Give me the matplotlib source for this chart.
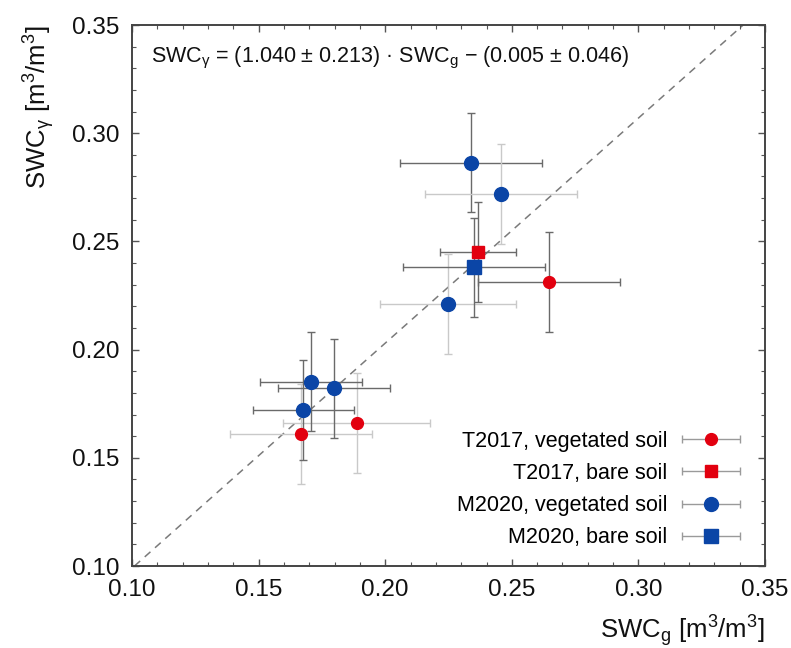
import numpy as np
import matplotlib
matplotlib.use("Agg")
import matplotlib.pyplot as plt
from matplotlib.legend_handler import HandlerErrorbar

plt.rcParams['font.family'] = ['Liberation Sans', 'DejaVu Sans']
plt.rcParams['mathtext.fontset'] = 'custom'
plt.rcParams['mathtext.rm'] = 'Liberation Sans'
plt.rcParams['mathtext.it'] = 'Liberation Sans:italic'
plt.rcParams['mathtext.bf'] = 'Liberation Sans:bold'

# data (SWC_g, SWC_gamma, errors)
t17_veg_x = [0.1667, 0.1887, 0.2648]
t17_veg_y = [0.1610, 0.1662, 0.2312]
t17_veg_xerr = [0.028, 0.029, 0.028]
t17_veg_yerr = [0.023, 0.023, 0.023]

t17_bare_x = [0.2367]
t17_bare_y = [0.2452]
t17_bare_xerr = [0.015]
t17_bare_yerr = [0.023]

m20_veg_x = [0.1707, 0.1797, 0.1677, 0.2248, 0.2338, 0.2457]
m20_veg_y = [0.1852, 0.1821, 0.1721, 0.2212, 0.2864, 0.2720]
m20_veg_xerr = [0.020, 0.022, 0.020, 0.027, 0.028, 0.030]
m20_veg_yerr = [0.023, 0.023, 0.023, 0.023, 0.023, 0.023]

m20_bare_x = [0.2350]
m20_bare_y = [0.2380]
m20_bare_xerr = [0.028]
m20_bare_yerr = [0.023]

labels = ['T2017, vegetated soil', 'T2017, bare soil',
          'M2020, vegetated soil', 'M2020, bare soil']

fit_slope = 1.040
fit_icept = -0.005
eq_text = (r'SWC$_{\mathrm{\gamma}}$ = (1.040 ± 0.213) · SWC$_\mathrm{g}$'
           r' − (0.005 ± 0.046)')

# styles
RED = '#e2000f'
BLUE = '#0b45a6'
DARK = '#6a6a6a'
LIGHT = '#c9c9c9'
t17_veg_bar = [LIGHT, LIGHT, DARK]
m20_veg_bar = [DARK, DARK, DARK, LIGHT, DARK, LIGHT]

series = [
    (t17_veg_x, t17_veg_y, t17_veg_xerr, t17_veg_yerr, t17_veg_bar, RED, 'o', 8.5),
    (t17_bare_x, t17_bare_y, t17_bare_xerr, t17_bare_yerr, [DARK], RED, 's', 8.0),
    (m20_veg_x, m20_veg_y, m20_veg_xerr, m20_veg_yerr, m20_veg_bar, BLUE, 'o', 10.0),
    (m20_bare_x, m20_bare_y, m20_bare_xerr, m20_bare_yerr, [DARK], BLUE, 's', 9.5),
]

fig = plt.figure(figsize=(7.91, 6.48), dpi=100)
ax = fig.add_axes([0.1669, 0.1265, 0.8003, 0.8349])

ax.axline((0, fit_icept), slope=fit_slope, color='#7a7a7a', ls=(0, (5, 4)),
          lw=1.1, zorder=1)

handles = []
for x, y, xe, ye, bars, col, mk, ms in series:
    for i in range(len(x)):
        ax.errorbar([x[i]], [y[i]], xerr=[xe[i]], yerr=[ye[i]], fmt='none',
                    ecolor=bars[i], elinewidth=1.0, capsize=3, capthick=1.0,
                    zorder=2)
    ax.plot(x, y, ls='none', marker=mk, ms=ms, color=col, mec=col, zorder=4)
    # legend proxy: horizontal error bar only
    h = ax.errorbar([np.nan], [np.nan], xerr=[0.01], fmt=mk, ms=ms, color=col,
                    ecolor='#9a9a9a', elinewidth=1.0, capsize=3, capthick=1.0)
    handles.append(h)

leg = ax.legend(handles, labels, loc='lower right', bbox_to_anchor=(0.985, 0.005),
                frameon=False, markerfirst=False, fontsize=15.5,
                handlelength=2.7, handletextpad=0.7, labelspacing=0.52,
                borderaxespad=0.3,
                handler_map={type(handles[0]): HandlerErrorbar(xerr_size=1.35)})

ax.text(0.03, 0.94, eq_text, transform=ax.transAxes, fontsize=15.5,
        va='center', ha='left', color='#111111')

ax.set_xlim(0.10, 0.35)
ax.set_ylim(0.10, 0.35)
ax.set_xticks(np.arange(0.10, 0.351, 0.05))
ax.set_yticks(np.arange(0.10, 0.351, 0.05))
ax.set_xticks(np.arange(0.10, 0.351, 0.01), minor=True)
ax.set_yticks(np.arange(0.10, 0.351, 0.01), minor=True)
ax.xaxis.set_major_formatter(matplotlib.ticker.FormatStrFormatter('%.2f'))
ax.yaxis.set_major_formatter(matplotlib.ticker.FormatStrFormatter('%.2f'))
ax.tick_params(which='both', direction='in', top=True, right=True,
               color='#555555', labelsize=17.5, pad=9, labelcolor='#111111')
ax.tick_params(which='major', length=5, width=1.0)
ax.tick_params(which='minor', length=3, width=0.8)
for s in ax.spines.values():
    s.set_color('#444444')
    s.set_linewidth(1.4)

ax.set_xlabel(r'SWC$_\mathrm{g}$ [m$^3$/m$^3$]', loc='right', fontsize=18.5,
              labelpad=9, color='#111111')
ax.set_ylabel(r'SWC$_{\mathrm{\gamma}}$ [m$^3$/m$^3$]', loc='top', fontsize=18.5,
              labelpad=11, color='#111111')

fig.savefig('out.png', dpi=100)
